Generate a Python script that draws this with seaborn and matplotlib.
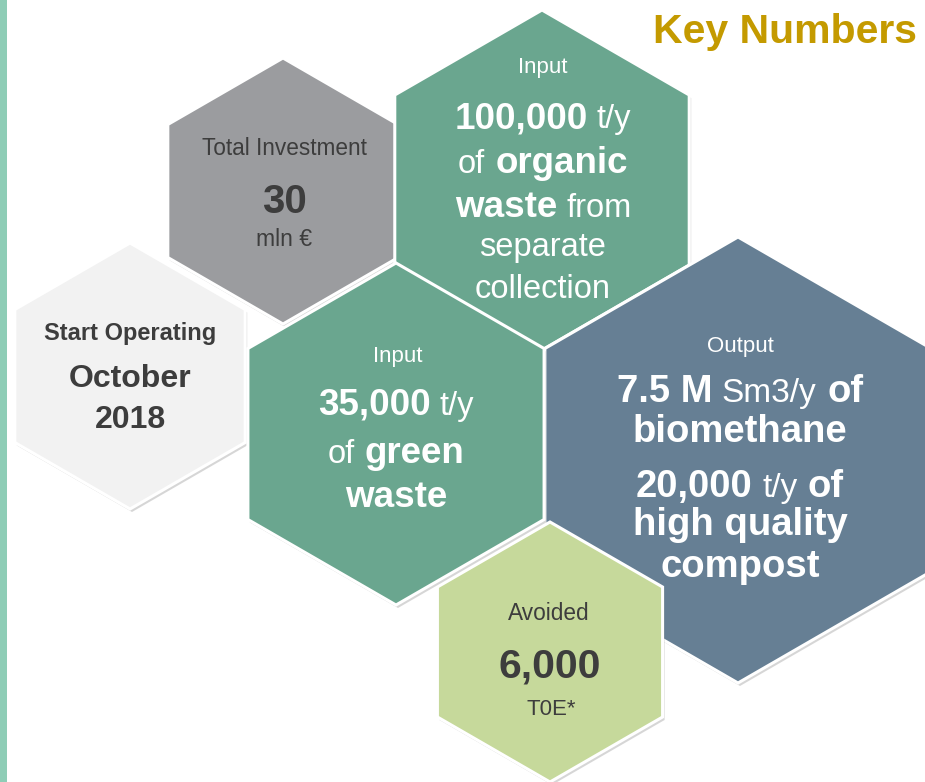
import numpy as np
import matplotlib
matplotlib.use("Agg")
import matplotlib.pyplot as plt
import seaborn as sns

sns.set_theme(style="white")
FONT = ["Liberation Sans", "DejaVu Sans"]
plt.rcParams["font.family"] = FONT

# ---- data: texts of the infographic -------------------------------------
title = "Key Numbers"

start_label = "Start Operating"
start_value = ["October", "2018"]

invest_label = "Total Investment"
invest_value = "30"
invest_unit = "mln €"

organic_label = "Input"
organic_lines = [[("100,000", True), ("t/y", False)],
                 [("of", False), ("organic", True)],
                 [("waste", True), ("from", False)],
                 [("separate", False)],
                 [("collection", False)]]

green_label = "Input"
green_lines = [[("35,000", True), ("t/y", False)],
               [("of", False), ("green", True)],
               [("waste", True)]]

output_label = "Output"
output_lines = [[("7.5 M", True), ("Sm3/y", False), ("of", True)],
                [("biomethane", True)],
                [("20,000", True), ("t/y", False), ("of", True)],
                [("high quality", True)],
                [("compost", True)]]

avoided_label = "Avoided"
avoided_value = "6,000"
avoided_unit = "T0E*"

# ---- figure ---------------------------------------------------------------
W, H = 925, 782
fig = plt.figure(figsize=(W / 100, H / 100), dpi=100)
ax = fig.add_axes([0, 0, 1, 1])
ax.set_xlim(0, W)
ax.set_ylim(H, 0)
ax.axis("off")
fig.patch.set_facecolor("white")
renderer = fig.canvas.get_renderer()

DARK = "#3d3d3d"


def hexagon(cx, cy, r, color, z):
    ang = np.deg2rad(np.arange(6) * 60 - 90)
    xs = cx + r * np.cos(ang)
    ys = cy + r * np.sin(ang)
    ax.fill(xs + 2, ys + 3, color="#7a7a7a", alpha=0.30, zorder=z - 0.5, lw=0)
    ax.fill(xs, ys, facecolor=color, edgecolor="white", lw=2.2, zorder=z,
            joinstyle="miter")


def line(xc, yb, runs, color, bsize, rsize, z=20):
    texts, widths, sizes = [], [], []
    for s, bold in runs:
        size = bsize if bold else rsize
        t = ax.text(0, yb, s, fontsize=size, fontweight="bold" if bold else "normal",
                    color=color, ha="left", va="baseline", zorder=z)
        bb = t.get_window_extent(renderer)
        texts.append(t)
        widths.append(bb.width)
        sizes.append(size)
    gaps = [0.278 * sizes[i + 1] * 100 / 72 for i in range(len(runs) - 1)]
    total = sum(widths) + sum(gaps)
    x = xc - total / 2
    for i, t in enumerate(texts):
        t.set_x(x)
        x += widths[i] + (gaps[i] if i < len(gaps) else 0)


# left accent bar
ax.fill([0, 7, 7, 0], [0, 0, H, H], color="#8ecdb6", lw=0, zorder=1)

# hexagons (draw order matters)
hexagon(130, 376, 133, "#f2f2f2", 2)      # start operating
hexagon(283, 191, 133, "#9b9c9f", 3)      # total investment
hexagon(542, 180, 170, "#6aa68f", 4)      # organic input
hexagon(738, 460, 223, "#667f94", 5)      # output
hexagon(550, 652, 130, "#c6d99b", 6)      # avoided
hexagon(396, 434, 171, "#6aa68f", 7)      # green input

# title
ax.text(917, 43, title, fontsize=29.5, fontweight="bold", color="#c49a00",
        ha="right", va="baseline", zorder=30)

# start operating
line(130, 340, [(start_label, True)], DARK, 17, 17)
for s, yb in zip(start_value, [387, 428]):
    line(130, yb, [(s, True)], DARK, 23, 23)

# total investment
line(284, 155, [(invest_label, False)], DARK, 16.3, 16.3)
line(284, 213, [(invest_value, True)], DARK, 29, 29)
line(284, 246, [(invest_unit, False)], DARK, 16.5, 16.5)

# organic
line(543, 73, [(organic_label, False)], "white", 16, 16)
for runs, yb in zip(organic_lines, [128, 173, 217, 256, 298]):
    line(543, yb, runs, "white", 26.5, 23.5)

# green
line(398, 362, [(green_label, False)], "white", 16, 16)
for runs, yb in zip(green_lines, [415, 463, 507]):
    line(396, yb, runs, "white", 26.5, 23.5)

# output
line(740, 352, [(output_label, False)], "white", 16, 16)
for runs, yb in zip(output_lines, [402, 442, 497, 535, 577]):
    line(740, yb, runs, "white", 27.5, 24)

# avoided
line(549, 620, [(avoided_label, False)], DARK, 16.3, 16.3)
line(550, 677, [(avoided_value, True)], DARK, 29.5, 29.5)
line(551, 715, [(avoided_unit, False)], DARK, 16, 16)

fig.savefig("out.png", dpi=100, facecolor="white")
